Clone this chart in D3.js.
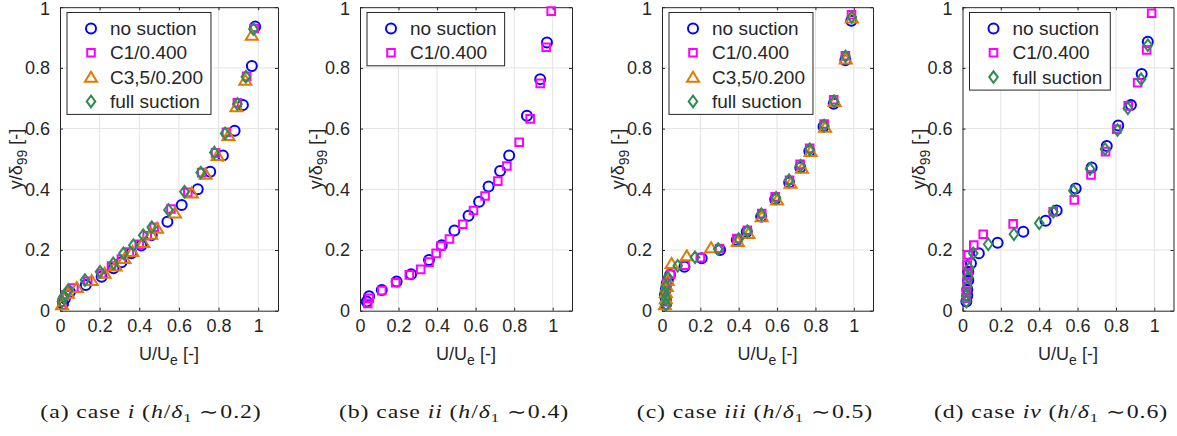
<!DOCTYPE html>
<html><head><meta charset="utf-8">
<script src="https://cdn.jsdelivr.net/npm/d3@7"></script>
<style>
body{margin:0;background:#fff}
svg{display:block}
text{fill:#262626}
</style>
</head><body>
<svg id="fig" width="1177" height="436"></svg>
<script>
// Velocity profiles [U/Ue, y/delta99] for each case and suction configuration
const caseI_noSuction = [[0.015,0.022],[0.025,0.04],[0.05,0.062],[0.13,0.085],[0.21,0.112],[0.27,0.14],[0.31,0.16],[0.36,0.189],[0.41,0.215],[0.463,0.249],[0.542,0.293],[0.614,0.348],[0.695,0.40],[0.758,0.458],[0.822,0.511],[0.881,0.593],[0.923,0.678],[0.968,0.806],[0.985,0.936]];
const caseI_c1 = [[0.01,0.028],[0.03,0.052],[0.07,0.075],[0.14,0.097],[0.21,0.122],[0.26,0.147],[0.31,0.17],[0.35,0.193],[0.40,0.219],[0.44,0.247],[0.475,0.275],[0.56,0.335],[0.645,0.39],[0.715,0.455],[0.785,0.52],[0.84,0.588],[0.895,0.685],[0.942,0.772],[0.98,0.93]];
const caseI_c35 = [[0.01,0.02],[0.04,0.058],[0.085,0.077],[0.16,0.1],[0.225,0.124],[0.28,0.148],[0.325,0.172],[0.365,0.195],[0.42,0.225],[0.46,0.252],[0.49,0.272],[0.58,0.322],[0.665,0.388],[0.735,0.45],[0.795,0.512],[0.85,0.578],[0.89,0.672],[0.935,0.76],[0.968,0.908]];
const caseI_full = [[0.01,0.03],[0.017,0.046],[0.042,0.068],[0.126,0.101],[0.202,0.128],[0.269,0.156],[0.32,0.189],[0.37,0.216],[0.42,0.249],[0.463,0.275],[0.547,0.332],[0.628,0.392],[0.71,0.455],[0.779,0.521],[0.833,0.584],[0.895,0.681],[0.938,0.771],[0.976,0.928]];

const caseII_noSuction = [[0.035,0.03],[0.047,0.048],[0.113,0.068],[0.19,0.096],[0.265,0.12],[0.358,0.167],[0.424,0.216],[0.49,0.264],[0.563,0.313],[0.618,0.359],[0.667,0.409],[0.727,0.46],[0.774,0.511],[0.866,0.642],[0.935,0.763],[0.97,0.884]];
const caseII_c1 = [[0.04,0.024],[0.048,0.041],[0.113,0.066],[0.185,0.092],[0.256,0.118],[0.315,0.136],[0.358,0.16],[0.395,0.189],[0.42,0.213],[0.464,0.236],[0.533,0.285],[0.589,0.33],[0.649,0.378],[0.715,0.427],[0.762,0.477],[0.826,0.555],[0.883,0.632],[0.935,0.749],[0.966,0.868],[0.992,0.987]];

const caseIII_noSuction = [[0.02,0.02],[0.02,0.035],[0.015,0.05],[0.02,0.07],[0.025,0.09],[0.03,0.1],[0.042,0.118],[0.117,0.145],[0.207,0.173],[0.303,0.2],[0.39,0.233],[0.442,0.26],[0.517,0.31],[0.59,0.367],[0.663,0.422],[0.721,0.472],[0.768,0.525],[0.842,0.607],[0.895,0.682],[0.956,0.825],[0.987,0.955]];
const caseIII_c1 = [[0.02,0.03],[0.02,0.05],[0.02,0.07],[0.025,0.09],[0.045,0.12],[0.12,0.15],[0.2,0.175],[0.3,0.205],[0.39,0.238],[0.445,0.265],[0.52,0.32],[0.59,0.375],[0.665,0.43],[0.72,0.482],[0.77,0.535],[0.845,0.615],[0.895,0.695],[0.956,0.84],[0.988,0.975]];
const caseIII_c35 = [[0.015,0.02],[0.02,0.04],[0.02,0.06],[0.025,0.08],[0.03,0.1],[0.05,0.156],[0.129,0.181],[0.256,0.208],[0.395,0.228],[0.45,0.255],[0.52,0.31],[0.6,0.365],[0.67,0.42],[0.73,0.47],[0.775,0.525],[0.85,0.605],[0.9,0.69],[0.958,0.83],[0.99,0.965]];
const caseIII_full = [[0.02,0.02],[0.02,0.04],[0.015,0.06],[0.02,0.08],[0.03,0.11],[0.082,0.148],[0.172,0.176],[0.293,0.203],[0.4,0.236],[0.445,0.262],[0.518,0.318],[0.595,0.372],[0.662,0.43],[0.722,0.478],[0.77,0.532],[0.845,0.61],[0.897,0.69],[0.957,0.838],[0.989,0.968]];

const caseIV_noSuction = [[0.02,0.03],[0.025,0.05],[0.025,0.07],[0.03,0.1],[0.03,0.128],[0.044,0.156],[0.085,0.189],[0.183,0.224],[0.317,0.26],[0.433,0.296],[0.491,0.33],[0.59,0.403],[0.673,0.472],[0.752,0.543],[0.812,0.61],[0.878,0.678],[0.934,0.78],[0.966,0.886]];
const caseIV_c1 = [[0.02,0.04],[0.02,0.06],[0.025,0.09],[0.03,0.12],[0.025,0.15],[0.03,0.184],[0.059,0.216],[0.108,0.252],[0.264,0.286],[0.473,0.326],[0.583,0.365],[0.67,0.447],[0.746,0.524],[0.804,0.598],[0.864,0.675],[0.913,0.751],[0.96,0.859],[0.986,0.98]];
const caseIV_full = [[0.02,0.03],[0.02,0.05],[0.025,0.08],[0.03,0.11],[0.035,0.14],[0.056,0.189],[0.134,0.219],[0.268,0.252],[0.4,0.288],[0.473,0.326],[0.578,0.395],[0.665,0.467],[0.743,0.533],[0.808,0.595],[0.862,0.667],[0.931,0.763],[0.966,0.875]];

const xTicks = [0, 0.2, 0.4, 0.6, 0.8, 1];
const yTicks = [0, 0.2, 0.4, 0.6, 0.8, 1];
const caseLabels = ["i", "ii", "iii", "iv"];
const panelLetters = ["a", "b", "c", "d"];
const heightRatios = ["0.2", "0.4", "0.5", "0.6"];

// marker styles per configuration
const styles = {
  noSuction: {label: "no suction",   color: "#0000ff", shape: "circle"},
  c1:        {label: "C1/0.400",     color: "#ff00ff", shape: "square"},
  c35:       {label: "C3,5/0.200",   color: "#e07b00", shape: "triangle"},
  full:      {label: "full suction", color: "#2e8b57", shape: "diamond"}
};

const panels = [
  {series: {noSuction: caseI_noSuction, c1: caseI_c1, c35: caseI_c35, full: caseI_full}, left: 60, right: 278, cap: 151},
  {series: {noSuction: caseII_noSuction, c1: caseII_c1}, left: 360, right: 572, cap: 454},
  {series: {noSuction: caseIII_noSuction, c1: caseIII_c1, c35: caseIII_c35, full: caseIII_full}, left: 662, right: 873, cap: 755},
  {series: {noSuction: caseIV_noSuction, c1: caseIV_c1, full: caseIV_full}, left: 962.5, right: 1173.5, cap: 1051}
];

const plotTop = 7.2, plotBottom = 310.7;
const axisColor = "#262626", gridColor = "#e3e3e3";
const sans = "'Liberation Sans', Arial, Helvetica, sans-serif";
const serif = "'Liberation Serif', 'Times New Roman', serif";
const captionWidth = 222;   // width of the first caption line; others share its stretch

function markerPath(shape) {
  switch (shape) {
    case "circle":   return "M5,0A5,5 0 1,1 -5,0A5,5 0 1,1 5,0Z";
    case "square":   return "M-3.8,-3.8H3.8V3.8H-3.8Z";
    case "triangle": return "M0,-5.4L6,4.6H-6Z";
    case "diamond":  return "M0,-5.8L4.3,0L0,5.8L-4.3,0Z";
  }
}

const svg = d3.select("#fig");
let captionStretch = null;

panels.forEach((p, i) => {
  const x = d3.scaleLinear().domain([0, 1.1]).range([p.left, p.right]);
  const y = d3.scaleLinear().domain([0, 1]).range([plotBottom, plotTop]);
  const g = svg.append("g");

  // grid
  g.append("g").selectAll("line").data(xTicks.filter(d => d > 0)).join("line")
    .attr("x1", d => x(d)).attr("x2", d => x(d)).attr("y1", plotTop).attr("y2", plotBottom)
    .attr("stroke", gridColor).attr("stroke-width", 1);
  g.append("g").selectAll("line").data(yTicks.filter(d => d > 0 && d < 1)).join("line")
    .attr("y1", d => y(d)).attr("y2", d => y(d)).attr("x1", p.left).attr("x2", p.right)
    .attr("stroke", gridColor).attr("stroke-width", 1);

  // axes with inward ticks on all four sides
  const fmt = d => String(d);
  const styleAxis = sel => {
    sel.select(".domain").attr("stroke", axisColor).attr("stroke-width", 1);
    sel.selectAll(".tick line").attr("stroke", axisColor);
    sel.selectAll(".tick text").attr("fill", axisColor).style("font-family", sans).style("font-size", "18px");
  };
  g.append("g").attr("transform", `translate(0,${plotBottom})`)
    .call(d3.axisBottom(x).tickValues(xTicks).tickFormat(fmt).tickSizeInner(-3).tickSizeOuter(0).tickPadding(9))
    .call(styleAxis);
  g.append("g").attr("transform", `translate(0,${plotTop})`)
    .call(d3.axisTop(x).tickValues(xTicks).tickFormat("").tickSizeInner(-3).tickSizeOuter(0))
    .call(styleAxis);
  const yAxisG = g.append("g").attr("transform", `translate(${p.left},0)`)
    .call(d3.axisLeft(y).tickValues(yTicks).tickFormat(fmt).tickSizeInner(-3).tickSizeOuter(0).tickPadding(10))
    .call(styleAxis);
  g.append("g").attr("transform", `translate(${p.right},0)`)
    .call(d3.axisRight(y).tickValues(yTicks).tickFormat("").tickSizeInner(-3).tickSizeOuter(0))
    .call(styleAxis);
  // keep the top tick label inside the canvas
  yAxisG.selectAll(".tick text").filter(d => d === 1).attr("dy", "0.42em");

  // markers
  const keys = Object.keys(p.series);
  keys.forEach(k => {
    const st = styles[k];
    g.append("g").selectAll("path").data(p.series[k]).join("path")
      .attr("d", markerPath(st.shape))
      .attr("transform", d => `translate(${x(d[0])},${y(d[1])})`)
      .attr("fill", "none").attr("stroke", st.color).attr("stroke-width", 2);
  });

  // legend
  const lg = g.append("g").attr("transform", `translate(${p.left + 7},${plotTop + 5.3})`);
  const box = lg.append("rect").attr("fill", "#fff").attr("stroke", axisColor).attr("stroke-width", 1);
  let maxW = 0;
  keys.forEach((k, j) => {
    const st = styles[k];
    const cy = 16 + j * 24.3;
    lg.append("path").attr("d", markerPath(st.shape)).attr("transform", `translate(24,${cy})`)
      .attr("fill", "none").attr("stroke", st.color).attr("stroke-width", 2);
    const t = lg.append("text").attr("x", 43).attr("y", cy).attr("dy", "0.35em")
      .style("font-family", sans).style("font-size", "19px").text(st.label);
    maxW = Math.max(maxW, t.node().getComputedTextLength());
  });
  box.attr("x", 0).attr("y", 0).attr("width", 43 + maxW + 8).attr("height", 16 + (keys.length - 1) * 24.3 + 13);

  // axis labels
  const cx = (p.left + p.right) / 2;
  const xl = g.append("text").attr("x", cx).attr("y", 360).attr("text-anchor", "middle")
    .style("font-family", sans).style("font-size", "18px");
  xl.append("tspan").text("U/U");
  xl.append("tspan").attr("dy", 5).style("font-size", "14px").text("e");
  xl.append("tspan").attr("dy", -5).text(" [-]");

  const cyMid = (plotTop + plotBottom) / 2;
  const yl = g.append("text").attr("transform", `translate(${p.left - 38},${cyMid}) rotate(-90)`)
    .attr("text-anchor", "middle").style("font-family", sans).style("font-size", "18px");
  yl.append("tspan").text("y/δ");
  yl.append("tspan").attr("dy", 5).style("font-size", "14px").text("99");
  yl.append("tspan").attr("dy", -5).text(" [-]");

  // caption, stretched horizontally to the width of the typeset serif caption
  const capG = g.append("g").attr("transform", `translate(${p.cap},418)`);
  const cap = capG.append("text").attr("x", 0).attr("y", 0).attr("text-anchor", "middle")
    .style("font-family", serif).style("font-size", "18.5px").style("letter-spacing", "0.7px")
    .style("fill", "#1a1a1a");
  cap.append("tspan").text(`(${panelLetters[i]}) case `);
  cap.append("tspan").style("font-style", "italic").text(caseLabels[i]);
  cap.append("tspan").text(" (");
  cap.append("tspan").style("font-style", "italic").text("h");
  cap.append("tspan").text("/");
  cap.append("tspan").style("font-style", "italic").text("δ");
  cap.append("tspan").attr("dy", 4).style("font-size", "13px").text("1");
  cap.append("tspan").attr("dy", -4).text(" ∼" + heightRatios[i] + ")");
  if (captionStretch === null) captionStretch = captionWidth / cap.node().getComputedTextLength();
  capG.attr("transform", `translate(${p.cap},418) scale(${captionStretch},1)`);
});
</script>
</body></html>
